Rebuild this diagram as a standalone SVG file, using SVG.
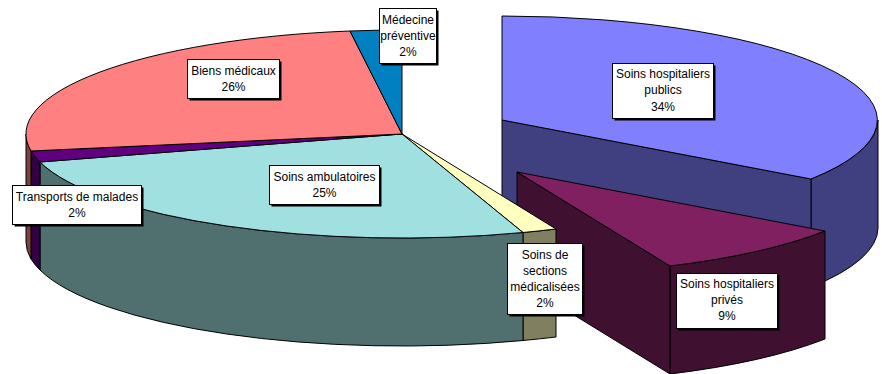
<svg xmlns="http://www.w3.org/2000/svg" width="882" height="374" viewBox="0 0 882 374">
<style>
.e{stroke:#000;stroke-width:1;stroke-linejoin:round}
.box{fill:#fff;stroke:#000;stroke-width:1}
.sh{fill:#000}
text{font-family:"Liberation Sans",Arial,sans-serif;font-size:12px;fill:#000;text-anchor:middle}
</style>
<rect width="882" height="374" fill="#fff"/>
<g id="soins-hospitaliers-publics">
<path class="e" fill="#404080" d="M878,120 A376,104 0 0,1 811,179 L811,287 A376,104 0 0,0 878,228 Z"/>
<path class="e" fill="#404080" d="M502,120 L811,179 L811,287 L502,228 Z"/>
<path class="e" fill="#8080FF" d="M502,120 L502,16 A376,104 0 0,1 811,179 Z"/>
<rect class="sh" x="614.5" y="65.5" width="101" height="55"/>
<rect class="box" x="612.5" y="63.5" width="101" height="55"/>
<text x="663" y="78">Soins hospitaliers</text>
<text x="663" y="94">publics</text>
<text x="663" y="111">34%</text>
</g>
<g id="soins-hospitaliers-prives">
<path class="e" fill="#401030" d="M825,231 A376,104 0 0,1 670,266 L670,374 A376,104 0 0,0 825,339 Z"/>
<path class="e" fill="#401030" d="M517,172 L670,266 L670,374 L517,280 Z"/>
<path class="e" fill="#802060" d="M517,172 L825,231 A376,104 0 0,1 670,266 Z"/>
</g>
<g id="soins-de-sections-medicalisees">
<path class="e" fill="#808060" d="M556,229 A376,104 0 0,1 523,232.5 L523,340.5 A376,104 0 0,0 556,337 Z"/>
<path class="e" fill="#FFFFC0" d="M402,134 L556,229 A376,104 0 0,1 523,232.5 Z"/>
</g>
<g id="soins-ambulatoires">
<path class="e" fill="#507070" d="M523,232.5 A376,104 0 0,1 40,162 L40,270 A376,104 0 0,0 523,340.5 Z"/>
<path class="e" fill="#A0E0E0" d="M402,134 L523,232.5 A376,104 0 0,1 40,162 Z"/>
</g>
<g id="transports-de-malades">
<path class="e" fill="#300040" d="M40,162 A376,104 0 0,1 31,151 L31,259 A376,104 0 0,0 40,270 Z"/>
<path class="e" fill="#600080" d="M402,134 L40,162 A376,104 0 0,1 31,151 Z"/>
</g>
<g id="biens-medicaux">
<path class="e" fill="#804040" d="M31,151 A376,104 0 0,1 26,134 L26,242 A376,104 0 0,0 31,259 Z"/>
<path class="e" fill="#FF8080" d="M402,134 L31,151 A376,104 0 0,1 350,31 Z"/>
</g>
<g id="medecine-preventive">
<path class="e" fill="#0080C0" d="M402,134 L350,31 A376,104 0 0,1 402,30 Z"/>
</g>
<g id="labels">
<g id="label-medecine-preventive">
<rect class="sh" x="381.5" y="10.5" width="57" height="55"/>
<rect class="box" x="379.5" y="8.5" width="57" height="55"/>
<text x="408" y="24">Médecine</text>
<text x="408" y="40">préventive</text>
<text x="408" y="56">2%</text>
</g>
<g id="label-biens-medicaux">
<rect class="sh" x="189.5" y="61.5" width="92" height="39"/>
<rect class="box" x="187.5" y="59.5" width="92" height="39"/>
<text x="233.5" y="75">Biens médicaux</text>
<text x="233.5" y="91">26%</text>
</g>
<g id="label-soins-ambulatoires">
<rect class="sh" x="271.5" y="167.5" width="110" height="39"/>
<rect class="box" x="269.5" y="165.5" width="110" height="39"/>
<text x="324.5" y="181">Soins ambulatoires</text>
<text x="324.5" y="197">25%</text>
</g>
<g id="label-transports-de-malades">
<rect class="sh" x="14.5" y="187.5" width="129" height="39"/>
<rect class="box" x="12.5" y="185.5" width="129" height="39"/>
<text x="77" y="201">Transports de malades</text>
<text x="77" y="217">2%</text>
</g>
<g id="label-soins-de-sections">
<rect class="sh" x="509.5" y="245.5" width="75" height="71"/>
<rect class="box" x="507.5" y="243.5" width="75" height="71"/>
<text x="545" y="259">Soins de</text>
<text x="545" y="275">sections</text>
<text x="545" y="291">médicalisées</text>
<text x="545" y="307">2%</text>
</g>
<g id="label-soins-hospitaliers-prives">
<rect class="sh" x="678.5" y="275.5" width="101" height="55"/>
<rect class="box" x="676.5" y="273.5" width="101" height="55"/>
<text x="727" y="288">Soins hospitaliers</text>
<text x="727" y="304">privés</text>
<text x="727" y="320">9%</text>
</g>
</g>
</svg>
